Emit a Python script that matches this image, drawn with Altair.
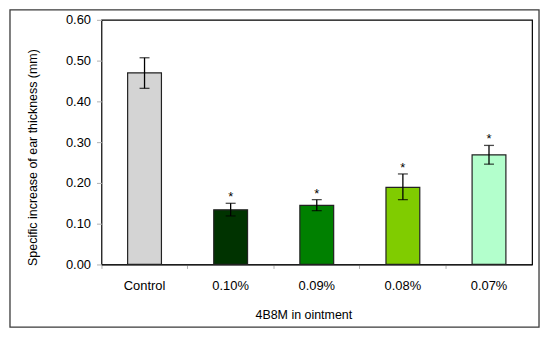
import altair as alt
import pandas as pd

categories = ["Control", "0.10%", "0.09%", "0.08%", "0.07%"]
values = [0.470, 0.134, 0.145, 0.189, 0.269]
err_low = [0.432, 0.119, 0.132, 0.159, 0.246]
err_high = [0.507, 0.150, 0.159, 0.222, 0.292]
stars = ["", "*", "*", "*", "*"]
colors = ["#d4d4d4", "#003300", "#008000", "#80cc00", "#b3ffcc"]

df = pd.DataFrame({"cat": categories, "val": values, "lo": err_low,
                   "hi": err_high, "star": stars, "color": colors})

W, H = 433, 246
FONT = "Liberation Sans"

xenc = alt.X("cat:N", sort=categories,
             scale=alt.Scale(paddingInner=0, paddingOuter=0),
             axis=alt.Axis(title="4B8M in ointment", labelAngle=0, bandPosition=0,
                           domain=True, domainColor="black", ticks=True, tickSize=4,
                           tickColor="#b0b0b0", labelPadding=11, labelFontSize=13,
                           titleFontSize=12.5, titleFontWeight="normal", titlePadding=16,
                           titleX=203, labelColor="black", titleColor="black",
                           labelFont=FONT, titleFont=FONT))
yscale = alt.Scale(domain=[0, 0.6], nice=False)
yaxis = alt.Axis(title="Specific increase of ear thickness (mm)", values=[0, 0.1, 0.2, 0.3, 0.4, 0.5, 0.6],
                 format=".2f", grid=False, tickSize=5, tickColor="#b0b0b0", domain=False,
                 labelPadding=6, labelFontSize=13, titleFontSize=12.5,
                 titleFontWeight="normal", titlePadding=26, titleY=138,
                 labelColor="black", titleColor="black", labelFont=FONT, titleFont=FONT)

base = alt.Chart(df)

bars = base.mark_bar(size=34, stroke="#222222", strokeWidth=1.2).encode(
    x=xenc,
    y=alt.Y("val:Q", scale=yscale, axis=yaxis),
    color=alt.Color("color:N", scale=None),
)
rule = base.mark_rule(color="black", strokeWidth=1.3).encode(
    x=alt.X("cat:N", sort=categories), y="lo:Q", y2="hi:Q")
cap_hi = base.mark_tick(color="black", size=10, thickness=1.3).encode(
    x=alt.X("cat:N", sort=categories), y="hi:Q")
cap_lo = base.mark_tick(color="black", size=10, thickness=1.3).encode(
    x=alt.X("cat:N", sort=categories), y="lo:Q")
star_txt = base.mark_text(fontSize=13, font=FONT, baseline="alphabetic", dy=-2, color="black").encode(
    x=alt.X("cat:N", sort=categories), y="hi:Q", text="star:N")

frame = alt.Chart(pd.DataFrame({"a": [0]})).mark_rect(
    fill=None, stroke="#3a3a3a", strokeWidth=1.3, clip=False).encode(
    x=alt.value(-92), x2=alt.value(440), y=alt.value(-10), y2=alt.value(309))

chart = alt.layer(frame, bars, rule, cap_hi, cap_lo, star_txt).properties(
    width=W, height=H,
    autosize=alt.AutoSizeParams(type="none"),
    padding={"left": 94, "top": 11, "right": 10, "bottom": 64},
    background="white",
).configure_view(stroke="black", strokeWidth=1.2)

chart.save("out.html", embed_options={"renderer": "svg", "actions": False})
